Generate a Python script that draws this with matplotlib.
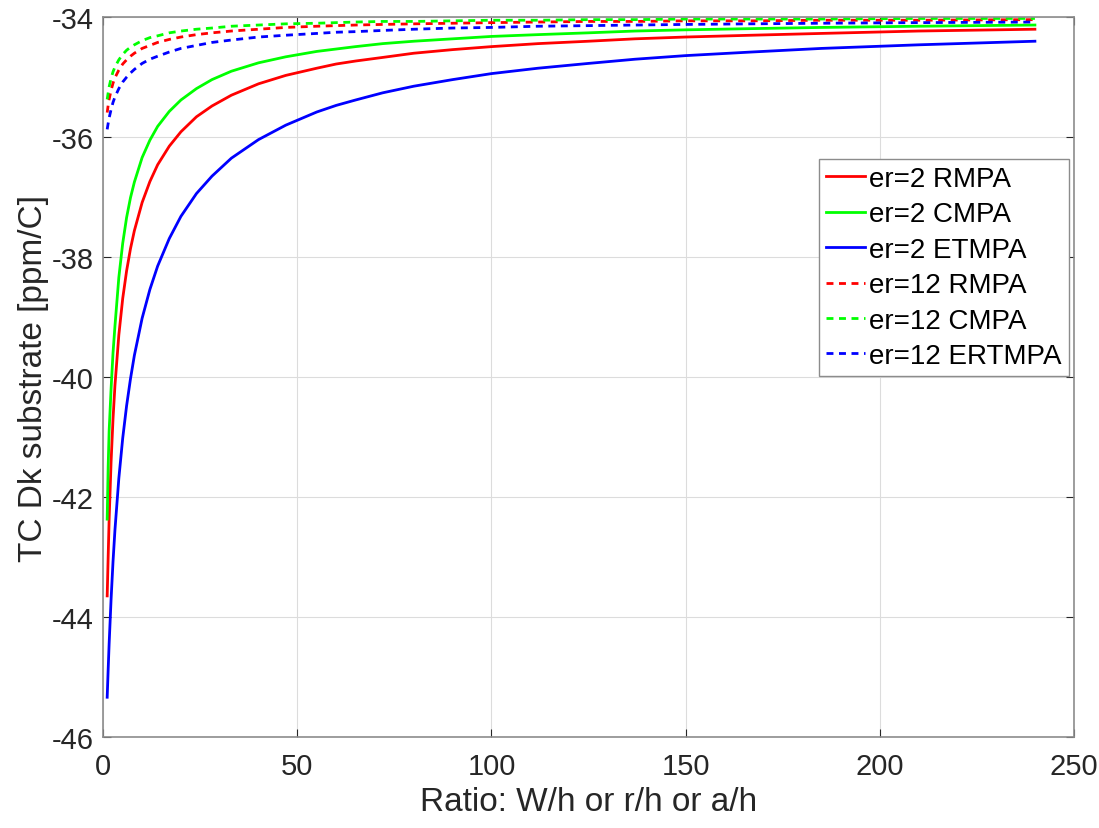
import matplotlib
matplotlib.use("Agg")
import matplotlib.pyplot as plt

plt.rcParams['font.family'] = ['Liberation Sans', 'DejaVu Sans']
plt.rcParams['axes.unicode_minus'] = False

# ratio W/h (or r/h, a/h)
ratio = [1, 1.25, 1.5, 2, 2.5, 3, 4, 5, 6, 7, 8, 10, 12, 14, 17, 20, 24, 28,
         33, 40, 47, 55, 60, 65, 72, 80, 90, 100, 112, 125, 137, 150, 167,
         185, 210, 240]

# TC of Dk, er=2
rmpa_er2 = [-43.65, -43.00, -42.38, -41.42, -40.70, -40.14, -39.30, -38.69,
            -38.23, -37.86, -37.56, -37.09, -36.74, -36.46, -36.15, -35.91,
            -35.66, -35.48, -35.30, -35.11, -34.97, -34.85, -34.78, -34.73,
            -34.67, -34.60, -34.54, -34.49, -34.44, -34.40, -34.36, -34.33,
            -34.30, -34.27, -34.23, -34.20]
cmpa_er2 = [-42.37, -41.50, -40.90, -40.20, -39.60, -39.15, -38.34, -37.77,
            -37.34, -37.01, -36.75, -36.34, -36.05, -35.82, -35.57, -35.38,
            -35.19, -35.04, -34.90, -34.76, -34.66, -34.57, -34.53, -34.49,
            -34.44, -34.40, -34.36, -34.32, -34.29, -34.26, -34.23, -34.21,
            -34.19, -34.17, -34.15, -34.13]
etmpa_er2 = [-45.34, -44.88, -44.45, -43.71, -43.08, -42.55, -41.69, -41.02,
             -40.48, -40.03, -39.64, -39.02, -38.54, -38.15, -37.69, -37.32,
             -36.94, -36.65, -36.35, -36.04, -35.80, -35.58, -35.47, -35.38,
             -35.26, -35.15, -35.04, -34.94, -34.85, -34.77, -34.70, -34.64,
             -34.58, -34.52, -34.46, -34.40]

# TC of Dk, er=12
rmpa_er12 = [-35.59, -35.47, -35.37, -35.22, -35.10, -35.01, -34.88, -34.78,
             -34.71, -34.65, -34.60, -34.52, -34.47, -34.42, -34.37, -34.33,
             -34.29, -34.26, -34.23, -34.20, -34.17, -34.15, -34.14, -34.13,
             -34.12, -34.11, -34.10, -34.09, -34.08, -34.07, -34.07, -34.06,
             -34.06, -34.05, -34.05, -34.04]
cmpa_er12 = [-35.37, -35.26, -35.16, -35.02, -34.91, -34.83, -34.71, -34.62,
             -34.55, -34.50, -34.46, -34.39, -34.34, -34.31, -34.26, -34.23,
             -34.20, -34.18, -34.15, -34.13, -34.11, -34.10, -34.09, -34.08,
             -34.07, -34.07, -34.06, -34.05, -34.05, -34.04, -34.04, -34.03,
             -34.03, -34.03, -34.02, -34.02]
ertmpa_er12 = [-35.87, -35.77, -35.68, -35.54, -35.42, -35.33, -35.19, -35.08,
               -35.00, -34.93, -34.87, -34.77, -34.70, -34.65, -34.58, -34.52,
               -34.47, -34.42, -34.38, -34.33, -34.30, -34.27, -34.25, -34.24,
               -34.22, -34.20, -34.18, -34.17, -34.15, -34.14, -34.13, -34.12,
               -34.11, -34.10, -34.09, -34.08]

fig = plt.figure(figsize=(10.99, 8.29), dpi=100)
ax = fig.add_axes([0.094, 0.110, 0.883, 0.868])

lw = 2.0
dash = (0, (2.5, 2))
ax.plot(ratio, rmpa_er2, color='#ff0000', lw=lw, label='er=2 RMPA')
ax.plot(ratio, cmpa_er2, color='#00ff00', lw=lw, label='er=2 CMPA')
ax.plot(ratio, etmpa_er2, color='#0000ff', lw=lw, label='er=2 ETMPA')
ax.plot(ratio, rmpa_er12, color='#ff0000', lw=lw, ls=dash, label='er=12 RMPA')
ax.plot(ratio, cmpa_er12, color='#00ff00', lw=lw, ls=dash, label='er=12 CMPA')
ax.plot(ratio, ertmpa_er12, color='#0000ff', lw=lw, ls=dash, label='er=12 ERTMPA')

ax.set_xlim(0, 250)
ax.set_ylim(-46, -34)
ax.set_xticks(range(0, 251, 50))
ax.set_yticks(range(-46, -33, 2))
ax.grid(True, color='#dcdcdc', lw=0.8)
ax.set_axisbelow(True)

for s in ax.spines.values():
    s.set_color('#8c8c8c')
    s.set_linewidth(1.2)
ax.tick_params(direction='in', top=True, right=True, length=6, width=0.8,
               color='#262626', labelsize=21, labelcolor='#262626')
ax.tick_params(axis='x', pad=11)
ax.tick_params(axis='y', pad=7)

ax.set_xlabel('Ratio: W/h or r/h or a/h', fontsize=24, color='#262626', labelpad=4)
ax.set_ylabel('TC Dk substrate [ppm/C]', fontsize=24, color='#262626', labelpad=2)

leg = ax.legend(loc='upper right', bbox_to_anchor=(0.995, 0.803), fontsize=20,
                frameon=True, fancybox=False, handlelength=1.4, handletextpad=0.15,
                labelspacing=0.34, borderpad=0.25, borderaxespad=0)
leg.get_frame().set_edgecolor('#8c8c8c')
leg.get_frame().set_linewidth(1.0)
leg.get_frame().set_alpha(1)

fig.savefig('out.png', dpi=100)
